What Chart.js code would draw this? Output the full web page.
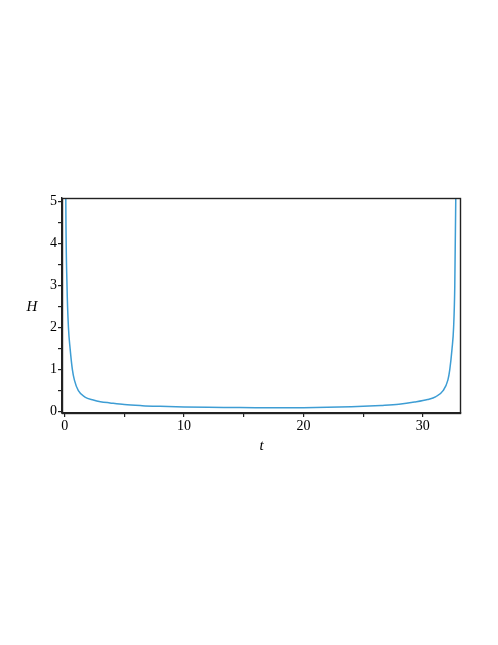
<!DOCTYPE html>
<html>
<head>
<meta charset="utf-8">
<script src="https://cdn.jsdelivr.net/npm/chart.js@4.4.0/dist/chart.umd.min.js"></script>
<style>
  html, body { margin: 0; padding: 0; background: #fff; }
  #wrap { width: 498px; height: 645px; }
</style>
</head>
<body>
<div id="wrap"><canvas id="chart" width="498" height="645"></canvas></div>
<script>
// values
const tValues = [0.08, 0.1, 0.2, 0.32, 0.46, 0.65, 0.82, 1.15, 1.7, 2.4, 3.0, 3.8, 5, 6.5, 8, 10, 12, 14, 16, 18, 20, 22, 24, 25.5, 26.5, 28, 29.3, 30.4, 31.1, 31.7, 32.1, 32.26, 32.45, 32.58, 32.68, 32.76, 32.8];
const hValues = [6.5, 5.0, 3.0, 2.0, 1.5, 1.0, 0.75, 0.5, 0.35, 0.28, 0.24, 0.21, 0.17, 0.145, 0.13, 0.115, 0.105, 0.1, 0.095, 0.095, 0.097, 0.105, 0.12, 0.135, 0.15, 0.18, 0.23, 0.29, 0.36, 0.5, 0.75, 1.0, 1.5, 2.0, 3.0, 5.0, 6.5];
const xTickLabels = [0, 10, 20, 30];
const yTickLabels = [0, 1, 2, 3, 4, 5];

const serif = '"Liberation Serif", "DejaVu Serif", serif';

const boxPlugin = {
  id: 'box',
  afterDraw(chart) {
    const { ctx, chartArea: a } = chart;
    ctx.save();
    ctx.strokeStyle = '#222';
    ctx.lineWidth = 1.4;
    ctx.strokeRect(a.left + 0.5, a.top + 0.5, a.right - a.left - 1, a.bottom - a.top);
    // y axis title, horizontal like the original
    ctx.fillStyle = '#000';
    ctx.font = 'italic 15px ' + serif;
    ctx.textAlign = 'center';
    ctx.textBaseline = 'middle';
    ctx.fillText('H', 32, (a.top + a.bottom) / 2 + 2);
    ctx.restore();
  }
};

new Chart(document.getElementById('chart'), {
  type: 'line',
  data: {
    datasets: [{
      data: tValues.map((t, i) => ({ x: t, y: hValues[i] })),
      borderColor: '#3d9dd4',
      borderWidth: 1.5,
      pointRadius: 0,
      cubicInterpolationMode: 'monotone',
      fill: false
    }]
  },
  options: {
    responsive: false,
    animation: false,
    layout: { padding: { left: 0, top: 198, right: 37, bottom: 190 } },
    plugins: { legend: { display: false }, tooltip: { enabled: false } },
    scales: {
      x: {
        type: 'linear',
        min: -0.22,
        max: 33.2,
        afterBuildTicks(scale) {
          scale.ticks = [0, 5, 10, 15, 20, 25, 30].map(v => ({ value: v }));
        },
        afterFit(scale) { scale.height = 42; },
        ticks: {
          color: '#000',
          font: { family: serif, size: 14 },
          padding: 1,
          maxRotation: 0,
          callback: v => xTickLabels.includes(v) ? String(v) : ''
        },
        grid: { drawOnChartArea: false, tickLength: 4, color: '#222', lineWidth: 1.2 },
        border: { color: '#222', width: 1.4 },
        title: {
          display: true,
          text: 't',
          color: '#000',
          font: { family: serif, size: 15, style: 'italic' },
          padding: { top: 0, bottom: 0 }
        }
      },
      y: {
        min: -0.03,
        max: 5.08,
        afterBuildTicks(scale) {
          const t = [];
          for (let v = 0; v <= 5; v += 0.5) t.push({ value: v });
          scale.ticks = t;
        },
        afterFit(scale) { scale.width = 62; },
        ticks: {
          color: '#000',
          font: { family: serif, size: 14 },
          padding: 1,
          callback: v => yTickLabels.includes(v) ? String(v) : ''
        },
        grid: { drawOnChartArea: false, tickLength: 4, color: '#222', lineWidth: 1.2 },
        border: { color: '#222', width: 1.4 }
      }
    }
  },
  plugins: [boxPlugin]
});
</script>
</body>
</html>
